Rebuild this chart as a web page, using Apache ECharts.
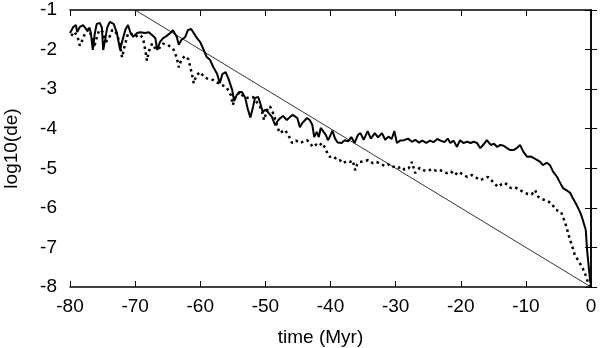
<!DOCTYPE html>
<html><head><meta charset="utf-8">
<script src="https://cdn.jsdelivr.net/npm/echarts@6/dist/echarts.min.js"></script>
<style>html,body{margin:0;padding:0;background:#fff}#c{width:600px;height:348px}</style>
</head><body><div id="c"></div>
<script>
const solidTime = [-80.0,-79.5,-79.1,-78.9,-78.5,-78.0,-77.4,-77.0,-76.8,-76.5,-76.2,-75.9,-75.4,-75.1,-74.9,-74.6,-74.3,-73.9,-73.3,-72.8,-72.3,-72.0,-71.5,-71.1,-70.7,-70.3,-69.7,-69.2,-68.5,-67.9,-67.4,-66.9,-66.6,-66.2,-65.7,-65.2,-64.6,-64.2,-63.6,-63.3,-62.9,-62.3,-61.9,-61.4,-61.0,-60.5,-60.0,-59.6,-59.0,-58.5,-58.0,-57.4,-57.0,-56.6,-56.1,-55.7,-55.1,-54.8,-54.4,-54.0,-53.6,-53.1,-52.7,-52.3,-51.9,-51.6,-51.1,-50.8,-50.4,-50.0,-49.6,-49.0,-48.5,-48.1,-47.7,-47.3,-46.7,-46.2,-45.8,-45.1,-44.7,-44.3,-43.6,-43.2,-42.8,-42.5,-42.1,-41.8,-41.5,-41.2,-40.7,-40.4,-40.1,-39.7,-39.3,-38.9,-38.3,-37.8,-37.3,-36.8,-36.3,-35.8,-35.4,-34.9,-34.3,-33.8,-33.2,-32.7,-32.1,-31.6,-31.1,-30.6,-30.2,-29.8,-29.3,-28.7,-28.1,-27.5,-27.0,-26.4,-25.9,-25.3,-24.7,-24.2,-23.6,-23.1,-22.5,-22.0,-21.6,-21.1,-20.6,-20.1,-19.6,-19.0,-18.5,-18.0,-17.5,-17.0,-16.5,-16.0,-15.4,-14.9,-14.4,-13.9,-13.4,-12.9,-12.4,-11.9,-11.4,-10.9,-10.4,-9.8,-9.3,-8.8,-8.3,-7.8,-7.4,-6.8,-6.3,-5.8,-5.2,-4.8,-4.3,-3.8,-3.2,-2.8,-2.2,-1.7,-1.4,-1.1,-0.8,-0.6,-0.3,-0.1];
const solidVal = [-1.58,-1.43,-1.38,-1.56,-1.43,-1.38,-1.51,-1.45,-1.58,-2.01,-1.60,-1.35,-1.33,-1.45,-2.01,-1.75,-1.45,-1.30,-1.35,-1.58,-2.01,-1.80,-1.50,-1.38,-1.58,-1.68,-1.58,-1.56,-1.58,-1.56,-1.63,-1.71,-2.01,-1.81,-1.71,-1.66,-1.58,-1.51,-1.68,-1.88,-1.76,-1.68,-1.51,-1.48,-1.58,-1.71,-1.81,-1.96,-2.19,-2.26,-2.44,-2.62,-2.85,-2.62,-2.57,-2.72,-3.02,-3.30,-3.15,-3.07,-3.07,-3.22,-3.50,-3.72,-3.45,-3.22,-3.20,-3.35,-3.58,-3.52,-3.58,-3.70,-3.91,-3.80,-3.73,-3.68,-3.78,-3.70,-3.65,-3.73,-3.96,-3.85,-3.73,-3.78,-3.90,-4.21,-4.08,-4.21,-3.98,-3.98,-4.16,-4.29,-4.20,-4.05,-4.25,-4.35,-4.36,-4.29,-4.32,-4.21,-4.36,-4.16,-4.11,-4.28,-4.06,-4.25,-4.11,-4.22,-4.11,-4.28,-4.20,-4.26,-4.06,-4.36,-4.30,-4.29,-4.25,-4.33,-4.28,-4.35,-4.30,-4.36,-4.30,-4.34,-4.26,-4.30,-4.34,-4.25,-4.36,-4.30,-4.46,-4.29,-4.36,-4.33,-4.36,-4.33,-4.36,-4.49,-4.40,-4.29,-4.41,-4.38,-4.46,-4.41,-4.43,-4.49,-4.54,-4.54,-4.49,-4.41,-4.58,-4.71,-4.70,-4.74,-4.79,-4.84,-4.92,-4.86,-4.92,-5.09,-5.22,-5.35,-5.50,-5.55,-5.62,-5.75,-5.93,-6.10,-6.23,-6.26,-6.56,-7.07,-7.57,-7.90];
const dottedTime = [-79.8,-79.3,-78.8,-78.5,-78.2,-77.6,-77.1,-76.6,-76.3,-76.0,-75.5,-75.0,-74.5,-74.1,-73.5,-73.0,-72.4,-72.0,-71.6,-71.1,-70.6,-70.0,-69.4,-68.8,-68.4,-68.2,-67.9,-67.4,-66.8,-66.2,-65.7,-65.1,-64.6,-64.1,-63.6,-63.3,-62.9,-62.3,-61.8,-61.3,-61.0,-60.6,-60.0,-59.4,-58.8,-58.0,-57.3,-56.6,-55.9,-55.3,-55.0,-54.6,-53.9,-53.3,-52.8,-51.9,-51.1,-50.6,-50.2,-49.8,-49.3,-48.7,-48.2,-47.8,-47.0,-46.5,-45.9,-45.3,-44.7,-44.1,-43.6,-43.1,-42.7,-42.2,-41.8,-41.3,-40.8,-40.4,-40.1,-39.5,-39.0,-38.5,-38.1,-37.5,-37.0,-36.6,-36.2,-35.9,-35.5,-34.8,-34.2,-33.5,-32.9,-32.4,-31.6,-31.1,-30.6,-30.1,-29.6,-29.1,-28.6,-28.0,-27.5,-27.0,-26.3,-25.7,-25.0,-24.5,-23.8,-23.2,-22.6,-22.1,-21.5,-20.9,-20.4,-19.7,-19.0,-18.3,-17.6,-17.0,-16.4,-15.8,-15.0,-14.3,-13.7,-13.2,-12.3,-11.7,-11.2,-10.4,-9.7,-9.1,-8.6,-8.1,-7.5,-6.8,-6.1,-5.4,-4.6,-4.2,-3.8,-3.4,-2.9,-2.5,-1.8,-1.3,-0.9,-0.5,-0.1];
const dottedVal = [-1.65,-1.55,-1.70,-1.90,-1.80,-1.55,-1.50,-1.70,-1.95,-1.75,-1.50,-1.55,-1.80,-1.75,-1.50,-1.55,-1.80,-2.20,-1.90,-1.60,-1.60,-1.68,-1.62,-1.70,-2.05,-2.28,-2.05,-1.85,-2.00,-1.95,-1.85,-1.88,-1.92,-2.00,-2.20,-2.45,-2.25,-2.16,-2.25,-2.60,-2.85,-2.65,-2.57,-2.70,-2.74,-2.77,-2.84,-2.90,-2.97,-3.15,-3.40,-3.20,-3.07,-3.20,-3.22,-3.20,-3.38,-3.50,-3.78,-3.55,-3.43,-3.65,-3.93,-4.11,-4.03,-4.15,-4.36,-4.30,-4.36,-4.32,-4.29,-4.38,-4.46,-4.40,-4.44,-4.36,-4.49,-4.65,-4.71,-4.70,-4.79,-4.80,-4.87,-4.82,-4.84,-4.80,-5.05,-4.90,-4.84,-4.82,-4.79,-4.87,-4.84,-4.89,-4.94,-4.90,-4.97,-4.95,-4.99,-4.96,-5.04,-5.00,-4.84,-5.12,-4.99,-5.05,-5.07,-5.02,-5.06,-5.04,-5.10,-5.12,-5.08,-5.17,-5.09,-5.15,-5.22,-5.17,-5.24,-5.30,-5.26,-5.22,-5.35,-5.47,-5.40,-5.37,-5.50,-5.48,-5.52,-5.60,-5.65,-5.66,-5.55,-5.72,-5.78,-5.82,-5.88,-6.05,-6.10,-6.28,-6.46,-6.71,-6.96,-7.19,-7.37,-7.52,-7.67,-7.87,-7.98];
const refLineTime = [-70, 0];
const refLineVal = [-1, -8];
const xTickValues = [-80,-70,-60,-50,-40,-30,-20,-10,0];
const yTickValues = [-8,-7,-6,-5,-4,-3,-2,-1];

const zip = (a, b) => a.map((v, i) => [v, b[i]]);
const font = "'Liberation Sans', Arial, sans-serif";
const chart = echarts.init(document.getElementById('c'), null, {renderer: 'canvas'});
const axLine = {show: true, lineStyle: {color: '#000', width: 1.5}};
const tick = {show: true, inside: true, length: 6, lineStyle: {color: '#000', width: 1}};
chart.setOption({
  animation: false,
  backgroundColor: '#fff',
  grid: {left: 70, right: 9, top: 10, bottom: 61, containLabel: false, outerBoundsMode: 'none'},
  xAxis: [{
    type: 'value', min: -80, max: 0, interval: 10, position: 'bottom',
    axisLine: axLine, axisTick: tick, splitLine: {show: false},
    axisLabel: {color: '#000', fontFamily: font, fontSize: 19, margin: 10},
    name: 'time (Myr)', nameLocation: 'middle', nameGap: 41,
    nameTextStyle: {color: '#000', fontFamily: font, fontSize: 19, padding: [0, 20, 0, 0]}
  }, {
    type: 'value', min: -80, max: 0, interval: 10, position: 'top',
    axisLine: axLine, axisTick: tick, axisLabel: {show: false}, splitLine: {show: false}
  }],
  yAxis: [{
    type: 'value', min: -8, max: -1, interval: 1, position: 'left',
    axisLine: axLine, axisTick: tick, splitLine: {show: false},
    axisLabel: {color: '#000', fontFamily: font, fontSize: 19, margin: 13},
    name: 'log10(de)', nameLocation: 'middle', nameGap: 49, nameRotate: 90,
    nameTextStyle: {color: '#000', fontFamily: font, fontSize: 19}
  }, {
    type: 'value', min: -8, max: -1, interval: 1, position: 'right',
    axisLine: axLine, axisTick: tick, axisLabel: {show: false}, splitLine: {show: false}
  }],
  series: [
    {type: 'line', data: zip(refLineTime, refLineVal), showSymbol: false, symbol: 'none',
     lineStyle: {color: '#000', width: 0.8}},
    {type: 'line', data: zip(dottedTime, dottedVal), showSymbol: false, symbol: 'none',
     lineStyle: {color: '#000', width: 2.5, type: [2.5, 3.5], cap: 'butt'}},
    {type: 'line', data: zip(solidTime, solidVal), showSymbol: false, symbol: 'none',
     lineStyle: {color: '#000', width: 2}}
  ]
});
</script></body></html>
